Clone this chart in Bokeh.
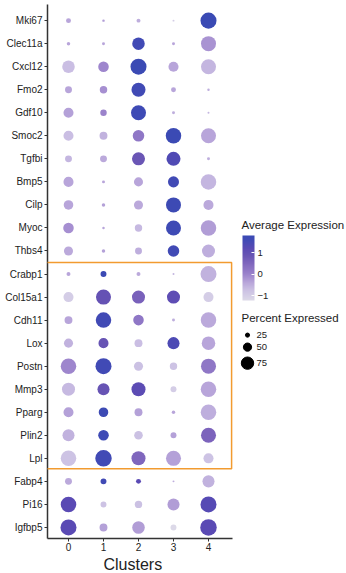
import numpy as np
from bokeh.plotting import figure
from bokeh.models import (Range1d, ColumnDataSource, LinearColorMapper, Label, Title,
                          ColorBar, FixedTicker, BoxAnnotation)
from bokeh.core.properties import value
from bokeh.embed import file_html
from bokeh.resources import INLINE

FONT = "Liberation Sans"

genes = ["Mki67", "Clec11a", "Cxcl12", "Fmo2", "Gdf10", "Smoc2", "Tgfbi", "Bmp5",
         "Cilp", "Myoc", "Thbs4", "Crabp1", "Col15a1", "Cdh11", "Lox", "Postn",
         "Mmp3", "Pparg", "Plin2", "Lpl", "Fabp4", "Pi16", "Igfbp5"]
clusters = [0, 1, 2, 3, 4]

# percent expressed per cluster (genes in order above)
pct_c0 = [30, 21, 76, 42, 61, 61, 42, 61, 58, 64, 55, 24, 61, 48, 55, 94, 79, 61, 73, 94, 42, 94, 97]
pct_c1 = [15, 18, 64, 45, 39, 48, 42, 18, 21, 15, 21, 36, 91, 94, 61, 97, 73, 58, 64, 100, 36, 36, 48]
pct_c2 = [24, 76, 97, 85, 91, 70, 79, 55, 55, 45, 42, 24, 79, 64, 48, 55, 85, 48, 52, 85, 30, 45, 76]
pct_c3 = [12, 18, 61, 30, 18, 94, 85, 67, 91, 91, 70, 12, 79, 18, 73, 45, 36, 21, 36, 91, 12, 73, 36]
pct_c4 = [97, 91, 91, 15, 12, 91, 18, 94, 61, 94, 79, 97, 61, 94, 82, 91, 94, 94, 91, 61, 73, 97, 100]

# average (scaled) expression per cluster
avg_c0 = [-0.4, -0.4, -0.7, -0.4, -0.35, -0.7, -0.6, -0.4, -0.4, -0.15, -0.45, -0.4, -1.0, -0.4, -0.55, -0.05, -0.65, -0.35, -0.55, -0.8, -0.45, 1.2, 1.2]
avg_c1 = [-0.3, -0.4, -0.05, -0.15, 0.0, -0.55, -0.45, -0.4, -0.35, -0.4, -0.35, 1.75, 0.95, 1.6, 0.9, 1.6, 0.9, 1.7, 1.65, 1.6, 1.6, -0.8, -0.35]
avg_c2 = [-0.5, 1.6, 1.75, 1.6, 1.65, 0.2, 0.85, -0.4, -0.45, -0.65, -0.5, -0.45, 0.6, 0.2, -0.7, -0.75, 1.15, -0.35, -0.75, 0.5, 1.2, -0.75, -0.3]
avg_c3 = [-1.0, -0.4, -0.4, -0.4, -0.5, 1.75, 1.35, 1.6, 1.7, 1.65, 1.6, -0.6, 1.1, -0.5, 1.4, -0.8, -1.0, -0.4, -0.35, -0.35, -0.5, -0.3, -1.23]
avg_c4 = [1.79, -0.2, -0.6, -0.5, -0.6, -0.4, -0.5, -0.6, -0.45, -0.3, -0.5, -0.55, -1.0, -0.45, -0.4, 0.2, -0.4, -0.5, 0.55, -0.8, -0.55, 1.25, 1.2]

color_ticks = [-1, 0, 1]
size_legend_values = [25, 50, 75]

pct_all = [pct_c0, pct_c1, pct_c2, pct_c3, pct_c4]
avg_all = [avg_c0, avg_c1, avg_c2, avg_c3, avg_c4]

SIZE_K = 0.165  # px diameter per percent


def size_of(p):
    return SIZE_K * p


n = len(genes)
gene_pos = {g: n - 1 - i for i, g in enumerate(genes)}  # first gene on top

xs, ys, gs, ps, avs = [], [], [], [], []
for ci, c in enumerate(clusters):
    for gi, g in enumerate(genes):
        xs.append(c)
        ys.append(gene_pos[g])
        gs.append(g)
        ps.append(pct_all[ci][gi])
        avs.append(avg_all[ci][gi])
src = ColumnDataSource(dict(cluster=xs, ypos=ys, gene=gs, pct=ps, avg=avs,
                            size=[size_of(v) for v in ps]))

# palette: light lavender -> purple -> blue
stops = [(0.0, "#dcd9e8"), (0.076, "#d4cde6"), (0.17, "#cabfe3"), (0.27, "#b9a6da"),
         (0.4, "#9c84cc"), (0.59, "#7c63bc"), (0.705, "#6754b4"), (0.805, "#5a4ab4"),
         (0.94, "#404ab5"), (1.0, "#3a4ab4")]


def hex2rgb(h):
    return np.array([int(h[i:i + 2], 16) for i in (1, 3, 5)], dtype=float)


palette = []
ts = [s[0] for s in stops]
for t in np.linspace(0, 1, 256):
    j = max(0, min(len(stops) - 2, np.searchsorted(ts, t, side="right") - 1))
    t0, c0 = stops[j]
    t1, c1 = stops[j + 1]
    f = (t - t0) / (t1 - t0)
    rgb = hex2rgb(c0) * (1 - f) + hex2rgb(c1) * f
    palette.append("#%02x%02x%02x" % tuple(int(round(v)) for v in rgb))

lo = min(min(a) for a in avg_all)
hi = max(max(a) for a in avg_all)
mapper = LinearColorMapper(palette=palette, low=lo, high=hi)

p = figure(width=346, height=573, output_backend="svg", toolbar_location=None,
           x_range=Range1d(-0.6, 7.943),
           y_range=Range1d(-0.48, n - 1 + 0.7),
           min_border_left=47, min_border_right=0, min_border_top=4, min_border_bottom=35)
p.outline_line_color = None
p.xgrid.visible = False
p.ygrid.visible = False
p.background_fill_color = "white"

p.extra_x_ranges = {"px": Range1d(47, 346)}
p.extra_y_ranges = {"px": Range1d(538, 5)}

p.scatter(x="cluster", y="ypos", size="size", source=src,
          fill_color={"field": "avg", "transform": mapper}, line_color=None)

for ax in (p.xaxis[0], p.yaxis[0]):
    ax.axis_line_color = "#333333"
    ax.axis_line_width = 1.5
    ax.major_tick_line_color = "#333333"
    ax.major_tick_line_width = 1
    ax.major_tick_in = 0
    ax.major_tick_out = 3
    ax.minor_tick_line_color = None
    ax.major_label_text_font = FONT
    ax.major_label_text_color = "#222222"
    ax.major_label_text_font_size = "10px"
    ax.major_label_standoff = 2

p.xaxis.major_label_standoff = 1
p.yaxis.ticker = FixedTicker(ticks=[gene_pos[g] for g in genes])
p.yaxis.major_label_overrides = {gene_pos[g]: g for g in genes}

p.xaxis.ticker = FixedTicker(ticks=clusters)
p.xaxis.bounds = (-0.6, 4.7)

# x axis title, placed under the cluster axis
p.add_layout(Title(text="Clusters", align="left", offset=56, standoff=0,
                   text_font=FONT, text_font_size="16px", text_font_style="normal",
                   text_color="#222222"), "below")

# highlight box around Crabp1 .. Lpl
box = BoxAnnotation(left=-1.943, right=4.66,
                    bottom=gene_pos["Lpl"] - 0.45, top=gene_pos["Crabp1"] + 0.5,
                    fill_color=None, fill_alpha=0, line_color="#f29b30",
                    line_alpha=1.0, line_width=1.5, level="overlay")
p.add_layout(box)

# colour legend
p.add_layout(Label(x=241, y=225, x_range_name="px", y_range_name="px",
                   text="Average Expression", text_font=FONT, text_font_size="11.5px",
                   text_color="#222222", text_align="left", text_baseline="middle"))
cb = ColorBar(color_mapper=mapper, ticker=FixedTicker(ticks=color_ticks),
              location=(195, 238), width=12, height=65, padding=0,
              orientation="vertical",
              background_fill_color=None, border_line_color=None, bar_line_color=None,
              major_tick_line_color="white", major_tick_in=3, major_tick_out=0,
              minor_tick_line_color=None,
              major_label_text_font=FONT, major_label_text_font_size="9.5px",
              major_label_text_color="#222222", label_standoff=3)
p.add_layout(cb)

# size legend (layout in pixel coordinates)
leg_y = [335, 347, 363]
p.text(x=[241], y=[318], text=["Percent Expressed"], x_range_name="px", y_range_name="px",
       text_font=value(FONT), text_font_size="11.5px", text_color="#222222",
       text_baseline="middle", text_align="left")
p.scatter(x=[247] * 3, y=leg_y, size=[size_of(v) for v in size_legend_values],
          color="black", x_range_name="px", y_range_name="px")
p.text(x=[256] * 3, y=leg_y, text=[str(v) for v in size_legend_values],
       x_range_name="px", y_range_name="px", text_font=value(FONT),
       text_font_size="9.5px", text_color="#222222", text_baseline="middle",
       text_align="left")

open("out.html", "w").write(file_html(p, INLINE))
